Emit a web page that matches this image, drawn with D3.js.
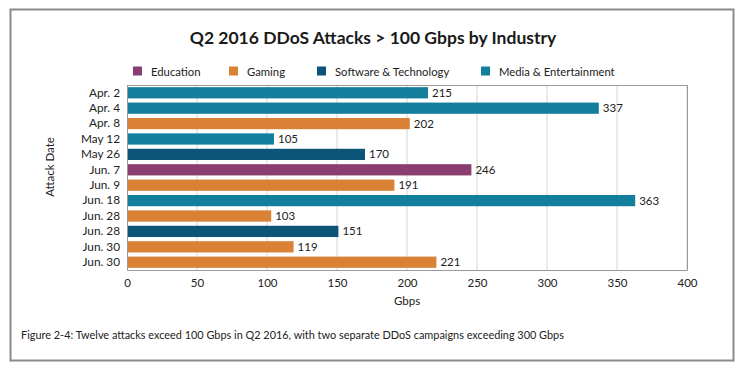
<!DOCTYPE html>
<html><head><meta charset="utf-8">
<script src="https://cdn.jsdelivr.net/npm/d3@7"></script>
<style>body{margin:0;background:#fff;}svg{display:block;font-family:Lato,"Open Sans",sans-serif;}</style>
</head><body>
<svg id="c" width="749" height="368"></svg>
<script>
const dates = ["Apr. 2","Apr. 4","Apr. 8","May 12","May 26","Jun. 7","Jun. 9","Jun. 18","Jun. 28","Jun. 28","Jun. 30","Jun. 30"];
const values = [215,337,202,105,170,246,191,363,103,151,119,221];
const industries = ["Media & Entertainment","Media & Entertainment","Gaming","Media & Entertainment","Software & Technology","Education","Gaming","Media & Entertainment","Gaming","Software & Technology","Gaming","Gaming"];
const legendNames = ["Education","Gaming","Software & Technology","Media & Entertainment"];
const legendColors = ["#8a3d70","#d98236","#0d5479","#137f9d"];
const xTicks = [0,50,100,150,200,250,300,350,400];

const svg = d3.select("#c");
svg.append("rect").attr("x",10.5).attr("y",9.5).attr("width",723).attr("height",351)
  .attr("fill","#fff").attr("stroke","#8a8a8a").attr("stroke-width",2);

const m = {l:127, r:687, t:85, b:270};
const x = d3.scaleLinear().domain([0,400]).range([m.l,m.r]);
const y = d3.scaleBand().domain(d3.range(dates.length)).range([m.t,m.b]).paddingInner(0.27).paddingOuter(0.14);
const color = d3.scaleOrdinal().domain(legendNames).range(legendColors);

svg.append("text").attr("x",373).attr("y",44).attr("text-anchor","middle")
  .attr("font-size",17.5).attr("font-weight","bold").attr("fill","#1a1a1a")
  .text("Q2 2016 DDoS Attacks > 100 Gbps by Industry");

const lx = [133,229,317,481];
legendNames.forEach((n,i)=>{
  svg.append("rect").attr("x",lx[i]).attr("y",66.5).attr("width",9).attr("height",9).attr("fill",legendColors[i]);
  svg.append("text").attr("x",lx[i]+18).attr("y",75.5).attr("font-size",11.3).attr("fill","#222").text(n);
});

svg.append("g").selectAll("line").data(xTicks.slice(1)).join("line")
  .attr("x1",d=>x(d)).attr("x2",d=>x(d)).attr("y1",m.t).attr("y2",m.b)
  .attr("stroke","#d4d4d4").attr("stroke-width",1);
svg.append("path").attr("d",`M${m.l},${m.t+0.5}H${m.r+0.5}V${m.b}`).attr("fill","none").attr("stroke","#999").attr("stroke-width",1);

svg.append("g").selectAll("rect").data(values).join("rect")
  .attr("x",x(0)).attr("y",(d,i)=>y(i)).attr("width",d=>x(d)-x(0)).attr("height",y.bandwidth())
  .attr("fill",(d,i)=>color(industries[i]));
svg.append("g").selectAll("text").data(values).join("text")
  .attr("x",d=>x(d)+4).attr("y",(d,i)=>y(i)+y.bandwidth()/2+4)
  .attr("font-size",11.5).attr("fill","#222").text(d=>d);

const xa = svg.append("g").attr("transform",`translate(0,${m.b})`)
  .call(d3.axisBottom(x).tickValues(xTicks).tickSize(0).tickPadding(9));
xa.select(".domain").attr("stroke","#999");
xa.selectAll("text").attr("font-size",11.5).attr("fill","#222").attr("font-family","Lato,'Open Sans',sans-serif");

const ya = svg.append("g").attr("transform",`translate(${m.l},0)`)
  .call(d3.axisLeft(y).tickFormat(i=>dates[i]).tickSize(0).tickPadding(7));
ya.select(".domain").attr("stroke","#999");
ya.selectAll("text").attr("font-size",11.8).attr("fill","#222").attr("font-family","Lato,'Open Sans',sans-serif");

svg.append("text").attr("x",407).attr("y",305).attr("text-anchor","middle").attr("font-size",11.5).attr("fill","#222").text("Gbps");
svg.append("text").attr("transform","translate(54,167) rotate(-90)").attr("text-anchor","middle").attr("font-size",11.5).attr("fill","#222").text("Attack Date");

svg.append("text").attr("x",21).attr("y",339).attr("font-size",10.9).attr("fill","#222")
  .text("Figure 2-4: Twelve attacks exceed 100 Gbps in Q2 2016, with two separate DDoS campaigns exceeding 300 Gbps");
</script>
</body></html>
